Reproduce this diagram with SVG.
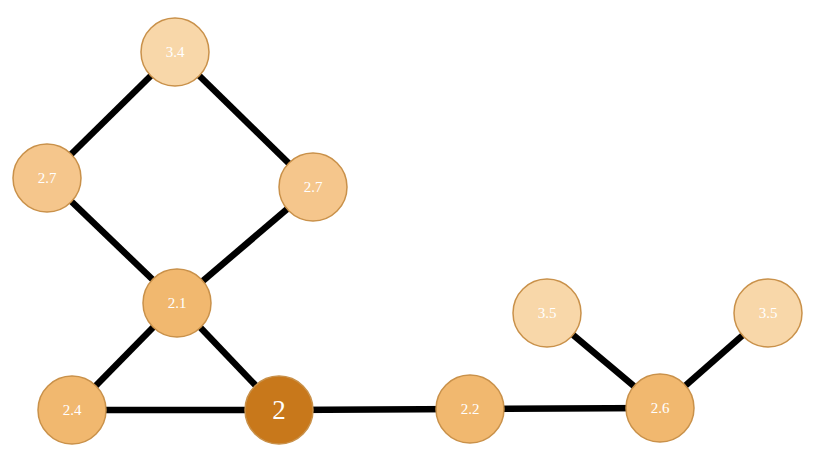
<svg xmlns="http://www.w3.org/2000/svg" width="817" height="459" viewBox="0 0 817 459">
<style>
.e{stroke:#000;stroke-width:6.5;stroke-linecap:butt}
.n{stroke:#c9914a;stroke-width:1.5}
.l{font-family:"Liberation Serif","DejaVu Serif",serif;fill:#fff;text-anchor:middle;dominant-baseline:central}
.s{font-size:15px}
.c35{fill:#f8d7a9}
.c27{fill:#f5c68c}
.c2x{fill:#f1b86f}
.c2{fill:#c8781b}
</style>
<rect width="817" height="459" fill="#fff"/>
<g id="edges">
<line class="e" x1="175" y1="52" x2="47" y2="178"/>
<line class="e" x1="175" y1="52" x2="313" y2="187"/>
<line class="e" x1="47" y1="178" x2="177" y2="303"/>
<line class="e" x1="313" y1="187" x2="177" y2="303"/>
<line class="e" x1="177" y1="303" x2="72" y2="410"/>
<line class="e" x1="177" y1="303" x2="279" y2="410"/>
<line class="e" x1="72" y1="410" x2="279" y2="410"/>
<line class="e" x1="279" y1="410" x2="470" y2="409"/>
<line class="e" x1="470" y1="409" x2="660" y2="408"/>
<line class="e" x1="660" y1="408" x2="547" y2="313"/>
<line class="e" x1="660" y1="408" x2="768" y2="313"/>
</g>
<g id="n34"><circle class="n c35" cx="175" cy="52" r="34"/><text class="l s" x="175" y="52">3.4</text></g>
<g id="n27a"><circle class="n c27" cx="47" cy="178" r="34"/><text class="l s" x="47" y="178">2.7</text></g>
<g id="n27b"><circle class="n c27" cx="313" cy="187" r="34"/><text class="l s" x="313" y="187">2.7</text></g>
<g id="n21"><circle class="n c2x" cx="177" cy="303" r="34"/><text class="l s" x="177" y="303">2.1</text></g>
<g id="n24"><circle class="n c2x" cx="72" cy="410" r="34"/><text class="l s" x="72" y="410">2.4</text></g>
<g id="n2"><circle class="n c2" cx="279" cy="410" r="34"/><text class="l" x="279" y="410" font-size="27">2</text></g>
<g id="n22"><circle class="n c2x" cx="470" cy="409" r="34"/><text class="l s" x="470" y="409">2.2</text></g>
<g id="n26"><circle class="n c2x" cx="660" cy="408" r="34"/><text class="l s" x="660" y="408">2.6</text></g>
<g id="n35a"><circle class="n c35" cx="547" cy="313" r="34"/><text class="l s" x="547" y="313">3.5</text></g>
<g id="n35b"><circle class="n c35" cx="768" cy="313" r="34"/><text class="l s" x="768" y="313">3.5</text></g>
</svg>
